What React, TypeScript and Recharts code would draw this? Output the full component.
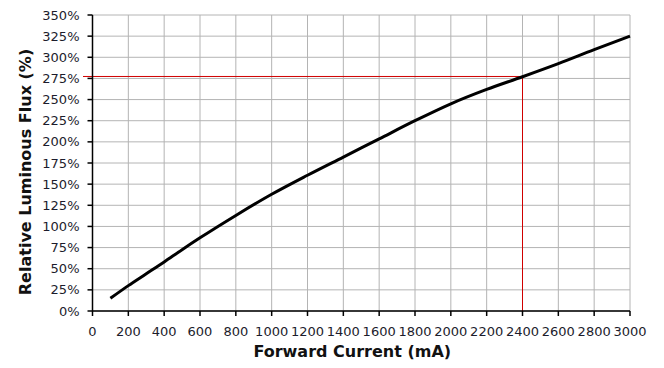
import React from "react";
import {
  LineChart,
  Line,
  XAxis,
  YAxis,
  CartesianGrid,
  ReferenceLine,
} from "recharts";

// forward current (mA) and relative luminous flux (%)
const currents = [100, 200, 300, 400, 500, 600, 800, 1000, 1200, 1400, 1600, 1800, 2000, 2200, 2400, 2600, 2800, 3000];
const flux = [15, 30, 44, 58, 72.5, 86.5, 113, 138, 160.5, 182, 203.5, 225, 245, 262, 277, 292.5, 309, 325];

const xTicks = [0, 200, 400, 600, 800, 1000, 1200, 1400, 1600, 1800, 2000, 2200, 2400, 2600, 2800, 3000];
const yTicks = [0, 25, 50, 75, 100, 125, 150, 175, 200, 225, 250, 275, 300, 325, 350];

// operating point marked in red
const markCurrent = 2400;
const markFlux = 277.3;

const data = currents.map((c, i) => ({ current: c, flux: flux[i] }));

const font = "'DejaVu Sans', Verdana, sans-serif";
const tickStyle = { fontSize: 13, fill: "#1c1c2c", fontFamily: font };

function YTitle(props: any) {
  const vb = props.viewBox || { x: 0, y: 0, width: 0, height: 0 };
  const cx = 25;
  const cy = vb.y + vb.height / 2 + 9;
  return (
    <text
      x={cx}
      y={cy}
      transform={`rotate(-90 ${cx} ${cy})`}
      textAnchor="middle"
      dominantBaseline="central"
      fontFamily={font}
      fontSize={16}
      fontWeight="bold"
      fill="#111"
    >
      Relative Luminous Flux (%)
    </text>
  );
}

function XTitle(props: any) {
  const vb = props.viewBox || { x: 0, y: 0, width: 0, height: 0 };
  return (
    <text
      x={vb.x + vb.width / 2 - 9}
      y={vb.y + 46}
      textAnchor="middle"
      fontFamily={font}
      fontSize={16}
      fontWeight="bold"
      fill="#111"
    >
      Forward Current (mA)
    </text>
  );
}

export default function App() {
  return (
    <div style={{ position: "absolute", left: 0, top: 0, background: "#fff" }}>
      <LineChart
        width={664}
        height={368}
        data={data}
        margin={{ top: 15, right: 34, left: 0, bottom: 0 }}
      >
        <CartesianGrid stroke="#b4b4b4" strokeWidth={1} />
        <XAxis
          dataKey="current"
          type="number"
          domain={[0, 3000]}
          ticks={xTicks}
          interval={0}
          height={57}
          tickSize={5}
          tickMargin={11}
          tick={tickStyle}
          stroke="#000"
          strokeWidth={1.5}
          label={{ content: XTitle }}
        />
        <YAxis
          type="number"
          domain={[0, 350]}
          ticks={yTicks}
          interval={0}
          width={92.5}
          tickSize={5}
          tickMargin={8}
          tick={tickStyle}
          tickFormatter={(v: number) => `${v}%`}
          stroke="#000"
          strokeWidth={1.5}
          label={{ content: YTitle }}
        />
        <ReferenceLine
          segment={[
            { x: -53, y: markFlux },
            { x: markCurrent, y: markFlux },
          ]}
          stroke="#d00000"
          strokeWidth={1}
          ifOverflow="visible"
        />
        <ReferenceLine
          segment={[
            { x: markCurrent, y: 0 },
            { x: markCurrent, y: markFlux },
          ]}
          stroke="#d00000"
          strokeWidth={1}
          ifOverflow="visible"
        />
        <Line
          dataKey="flux"
          type="monotone"
          stroke="#000"
          strokeWidth={3}
          dot={false}
          isAnimationActive={false}
        />
      </LineChart>
    </div>
  );
}
